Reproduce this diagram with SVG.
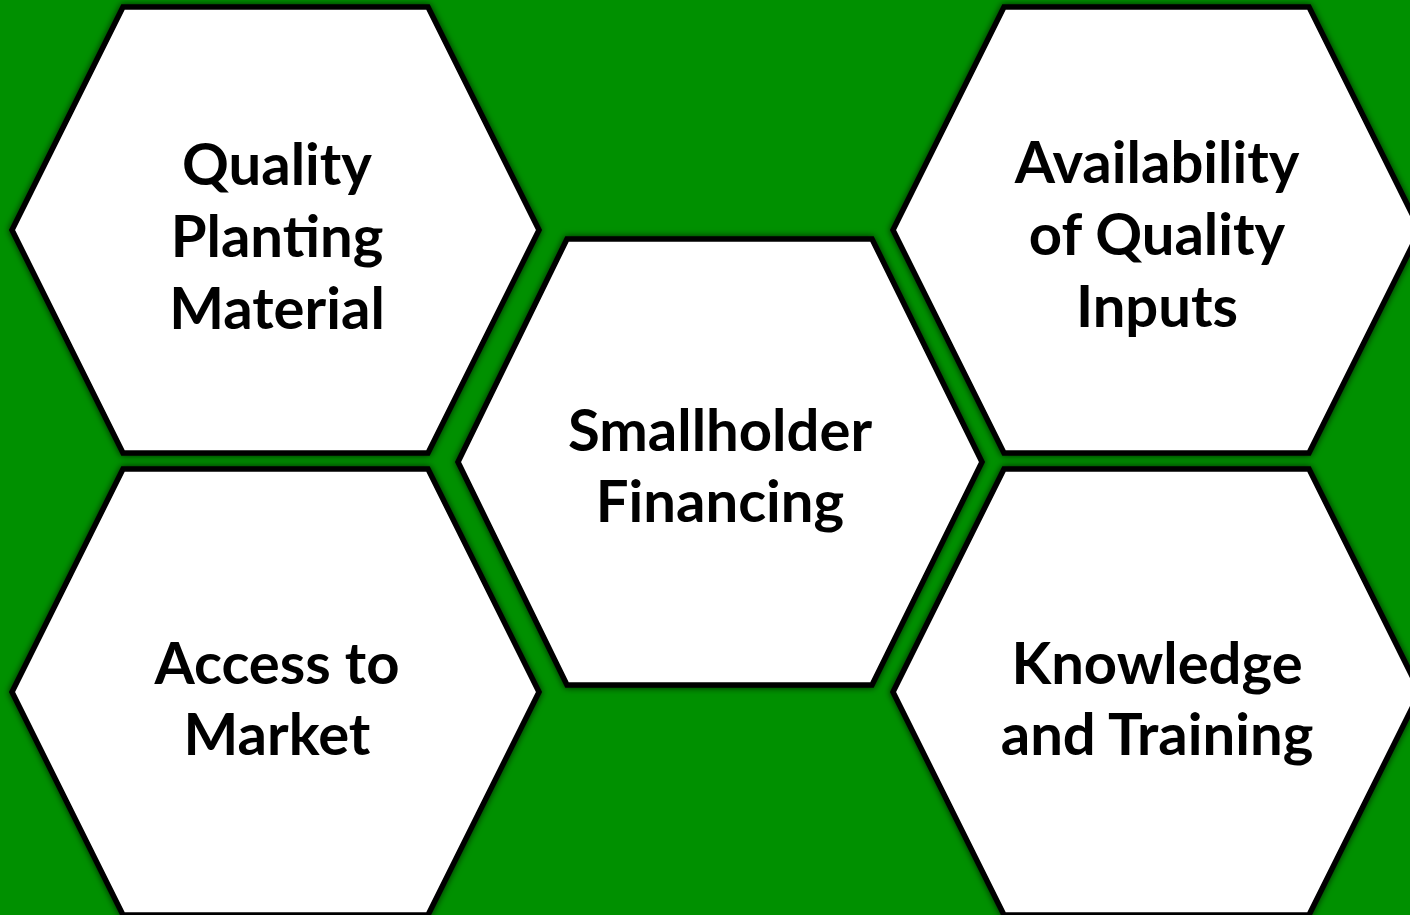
<svg xmlns="http://www.w3.org/2000/svg" width="1410" height="915" viewBox="0 0 1410 915">
<defs>
<filter id="sh" x="-10%" y="-10%" width="120%" height="120%">
<feDropShadow dx="0" dy="0" stdDeviation="3.5" flood-color="#000" flood-opacity="0.75"/>
</filter>
<polygon id="hex" points="111,0 416,0 527,223 416,446 111,446 0,223"/>
</defs>
<style>
.hx{fill:#fff;stroke:#000;stroke-width:5.5;stroke-linejoin:miter;filter:url(#sh)}
.t{font-family:Lato,"Open Sans","Liberation Sans",sans-serif;font-weight:700;font-size:58px;fill:#000;text-anchor:middle}
</style>
<rect width="1410" height="915" fill="#009000"/>
<g id="connectors"/>
<g id="n-quality-planting">
<use href="#hex" class="hx" x="12" y="7"/>
<text class="t" x="277" y="185">Quality</text>
<text class="t" x="277" y="257">Planting</text>
<text class="t" x="277" y="329">Material</text>
</g>
<g id="n-access-market">
<use href="#hex" class="hx" x="12" y="469"/>
<text class="t" x="277" y="684">Access to</text>
<text class="t" x="277" y="755">Market</text>
</g>
<g id="n-availability">
<use href="#hex" class="hx" x="893" y="7"/>
<text class="t" x="1157" y="183">Availability</text>
<text class="t" x="1157" y="255">of Quality</text>
<text class="t" x="1157" y="327">Inputs</text>
</g>
<g id="n-knowledge">
<use href="#hex" class="hx" x="893" y="469"/>
<text class="t" x="1157" y="684">Knowledge</text>
<text class="t" x="1157" y="755">and Training</text>
</g>
<g id="n-smallholder">
<polygon class="hx" points="567,239 872,239 982,462 872,685 567,685 458,462"/>
<text class="t" x="720" y="451">Smallholder</text>
<text class="t" x="720" y="522">Financing</text>
</g>
</svg>
